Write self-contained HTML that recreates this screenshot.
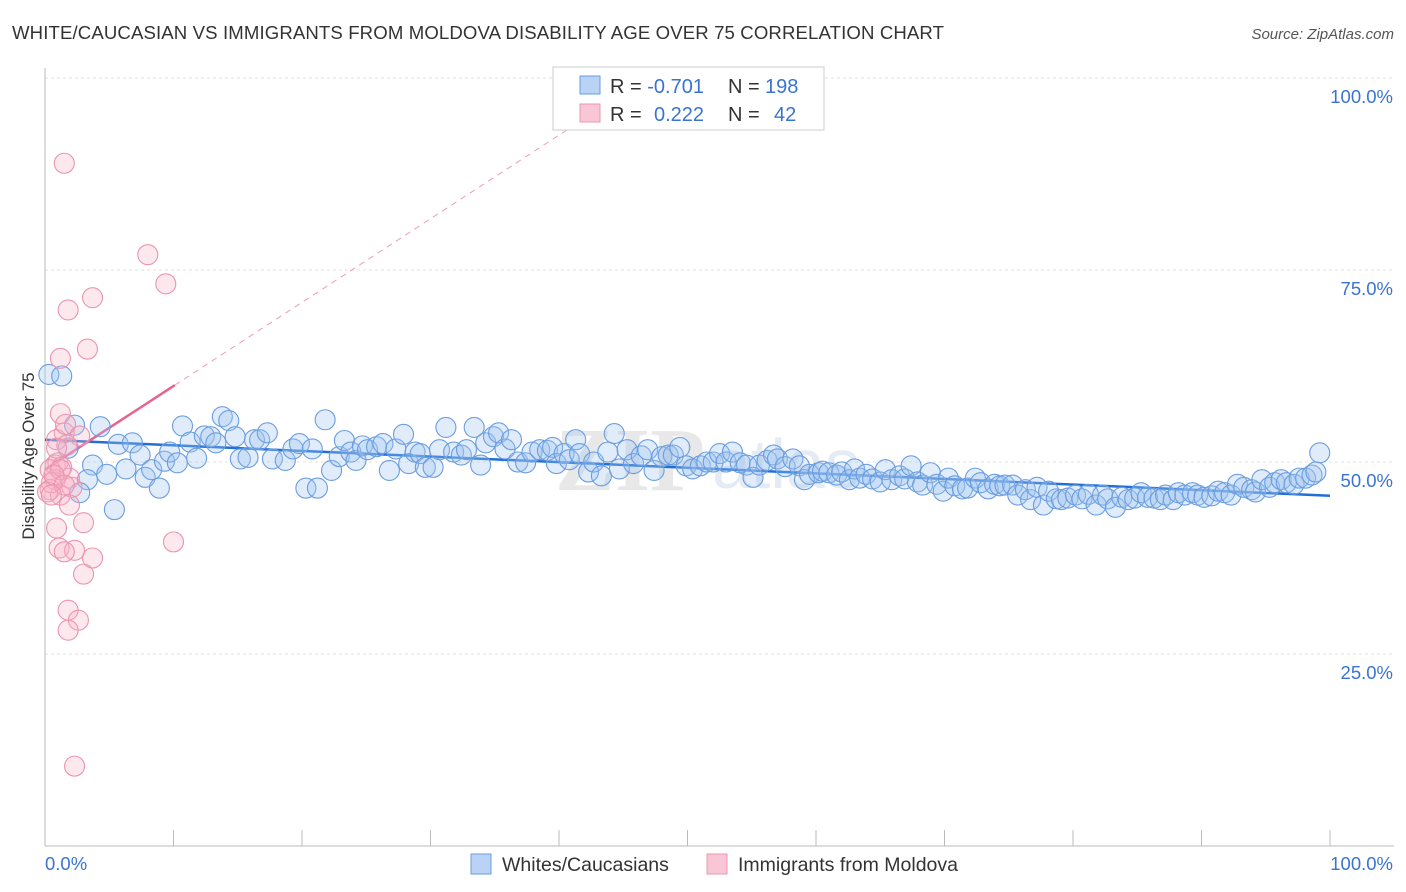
<!DOCTYPE html>
<html><head><meta charset="utf-8"><style>
body{margin:0;background:#fff;font-family:"Liberation Sans",sans-serif}
#wrap{position:relative;width:1406px;height:892px;overflow:hidden}
</style></head><body>
<div id="wrap">
<svg id="chart" width="1406" height="892" xmlns="http://www.w3.org/2000/svg">
<text x="12" y="39" font-size="18.6" fill="#333" textLength="932">WHITE/CAUCASIAN VS IMMIGRANTS FROM MOLDOVA DISABILITY AGE OVER 75 CORRELATION CHART</text>
<text x="1394" y="39" font-size="15" fill="#555" font-style="italic" text-anchor="end">Source: ZipAtlas.com</text>
<text x="34" y="456" font-size="17" fill="#333" text-anchor="middle" transform="rotate(-90 34 456)">Disability Age Over 75</text>
<g><text x="555" y="490" font-size="90" font-family="Liberation Serif,serif" font-weight="bold" fill="#e8e8e8">ZIP</text><text x="712" y="488" font-size="70" fill="#e4ebf5">atlas</text></g>
<g id="grid"></g><g id="axes"></g><g id="trend"></g><g id="pts"></g>
<g>
<rect x="553" y="67" width="271" height="63" fill="#fff" stroke="#ccc"/>
<rect x="580" y="76" width="20" height="18" fill="#b9d2f5" stroke="#6a9ee0"/>
<rect x="580" y="104" width="20" height="18" fill="#f9c6d5" stroke="#ea97b3"/>
<text x="610" y="93" font-size="20" fill="#333">R = <tspan fill="#3a74d0">-0.701</tspan><tspan x="728">N = </tspan><tspan fill="#3a74d0" x="765">198</tspan></text>
<text x="610" y="121" font-size="20" fill="#333">R = <tspan fill="#3a74d0" x="654">0.222</tspan><tspan x="728">N = </tspan><tspan fill="#3a74d0" x="774">42</tspan></text>
</g>
<g>
<rect x="471" y="854" width="20" height="20" fill="#b9d2f5" stroke="#6a9ee0"/>
<text x="502" y="871" font-size="19.5" fill="#333">Whites/Caucasians</text>
<rect x="707" y="854" width="20" height="20" fill="#f9c6d5" stroke="#ea97b3"/>
<text x="738" y="871" font-size="19.5" fill="#333">Immigrants from Moldova</text>
</g>
</svg>
</div>
<script>
const blueX=[0.3,1.3,2.3,4.3,1.8,3.7,3.3,2.7,5.4,4.8,6.3,5.7,6.8,7.4,7.8,8.9,8.3,9.3,9.7,10.3,10.7,11.3,11.8,12.4,12.9,13.3,13.8,14.3,14.8,15.2,15.8,16.3,16.7,17.3,17.7,18.7,19.3,19.8,20.3,20.8,21.2,21.8,22.3,22.9,23.3,23.8,24.2,24.7,25.1,25.8,26.3,26.8,27.3,27.9,28.3,28.8,29.2,29.6,30.2,30.7,31.2,31.8,32.4,32.8,33.4,33.9,34.3,34.9,35.3,35.8,36.3,36.8,37.4,37.9,38.5,39.1,39.5,39.8,40.4,40.8,41.3,41.6,42.3,42.7,43.3,43.8,44.3,44.7,45.3,45.8,46.4,46.9,47.4,48.0,48.5,48.9,49.4,49.9,50.4,51.0,51.5,52.0,52.5,53.0,53.5,54.1,54.6,55.1,55.6,56.2,56.7,57.0,57.6,58.2,58.7,59.1,59.5,60.2,60.5,61.0,61.6,62.0,62.6,63.0,63.4,63.9,64.4,65.0,65.4,65.9,66.5,66.9,67.4,67.9,68.3,68.9,69.4,69.9,70.3,70.8,71.4,71.8,72.4,72.8,73.4,73.9,74.3,74.7,75.3,75.7,76.3,76.7,77.2,77.7,78.1,78.7,79.1,79.6,80.2,80.7,81.2,81.8,82.3,82.7,83.3,83.8,84.3,84.8,85.3,85.8,86.3,86.8,87.2,87.8,88.2,88.7,89.3,89.7,90.2,90.8,91.3,91.8,92.3,92.8,93.3,93.9,94.2,94.7,95.3,95.7,96.2,96.6,97.2,97.6,98.1,98.6,98.9,99.2];
const blueY=[61.4,61.2,54.8,54.6,51.8,49.6,47.7,46.0,43.8,48.4,49.1,52.3,52.5,50.9,48.0,46.6,49.0,50.1,51.3,49.9,54.7,52.6,50.5,53.4,53.3,52.5,55.9,55.4,53.3,50.4,50.6,52.9,52.9,53.8,50.4,50.2,51.7,52.4,46.6,51.7,46.6,55.5,48.9,50.7,52.8,51.3,50.2,52.1,51.6,52.0,52.4,48.9,51.7,53.6,49.8,51.3,51.1,49.3,49.3,51.6,54.5,51.3,50.9,51.6,54.5,49.6,52.5,53.3,53.8,51.7,52.9,50.0,49.9,51.3,51.6,51.5,51.9,49.8,51.1,50.3,52.9,51.1,48.7,50.0,48.2,51.3,53.7,49.1,51.6,49.8,50.8,51.6,48.9,50.7,50.9,50.9,51.9,49.5,49.1,49.5,50.0,50.0,51.1,50.0,51.3,49.9,49.6,48.0,49.6,50.2,50.9,50.4,49.4,50.4,49.5,47.7,48.4,48.6,48.8,48.6,48.3,48.7,47.7,49.1,47.9,48.4,47.8,47.4,49.0,47.7,48.2,47.8,49.5,47.4,47.0,48.6,47.1,46.2,47.9,46.9,46.5,46.6,47.9,47.3,46.5,47.1,46.9,47.0,47.0,45.7,46.4,45.1,46.7,44.4,46.2,45.2,45.1,45.3,45.7,45.2,45.8,44.4,45.7,45.2,44.1,45.4,45.1,45.3,46.0,45.4,45.3,45.1,45.7,45.1,46.0,45.7,46.0,45.7,45.4,45.6,46.2,46.0,45.7,47.1,46.7,46.4,46.1,47.7,46.7,47.3,47.7,47.3,47.1,47.9,47.9,48.3,48.7,51.2];
const pinkX=[1.5,8.0,9.4,3.7,1.8,3.3,1.2,1.2,1.5,2.7,0.9,1.7,0.8,1.0,1.3,0.4,1.9,0.8,0.4,1.2,2.1,1.9,0.9,3.0,1.1,2.3,1.5,3.7,3.0,1.8,2.6,1.8,2.3,10.0,0.5,0.2,0.9,1.6,1.2,0.7,1.5,0.5];
const pinkY=[88.9,77.0,73.2,71.4,69.8,64.7,63.5,56.3,53.8,53.4,52.9,52.2,49.6,49.9,49.3,49.0,47.9,47.7,46.4,45.7,46.7,44.4,41.4,42.1,38.8,38.5,38.3,37.5,35.4,30.7,29.4,28.1,10.4,39.6,47.3,46.1,51.8,54.9,49.0,48.3,47.0,45.7];
const xTicks=[0,10,20,30,40,50,60,70,80,90,100];
const yTicks=[25,50,75,100];
const yTickLabels=["25.0%","50.0%","75.0%","100.0%"];
const blueTrend=[52.9,45.6];
const pinkTrend=[49.0,60.0];
const pinkTrendEnd=10.1;

const X0=45,X1=1330,Y0=846,Y100=78;
const sx=v=>X0+(X1-X0)*v/100, sy=v=>Y0-(Y0-Y100)*v/100;
const NS="http://www.w3.org/2000/svg";
function mk(tag,attrs,parent){const e=document.createElementNS(NS,tag);for(const k in attrs)e.setAttribute(k,attrs[k]);document.getElementById(parent).appendChild(e);return e;}

yTicks.forEach((t,i)=>{
  const g=mk('line',{x1:X0,x2:1394,y1:sy(t),y2:sy(t),stroke:'#e2e2e2','stroke-dasharray':'3,3'},'grid');
  
  
  const l=mk('text',{x:1393,y:sy(t)+25,'font-size':18.5,fill:'#3a74d0','text-anchor':'end'},'grid');
  l.textContent=yTickLabels[i];
  
  
});
const ax=mk('line',{x1:X0,x2:X0,y1:68,y2:Y0,stroke:'#bbb'},'axes');


const bx=mk('line',{x1:X0,x2:1394,y1:Y0,y2:Y0,stroke:'#bbb'},'axes');


xTicks.forEach(t=>{
  if(t===0)return;
  const k=mk('line',{x1:sx(t),x2:sx(t),y1:830,y2:Y0,stroke:'#bbb'},'axes');
  
  
});
const xl0=mk('text',{x:45,y:870,'font-size':18.5,fill:'#3a74d0'},'axes');xl0.textContent='0.0%';


const xl1=mk('text',{x:1393,y:870,'font-size':18.5,fill:'#3a74d0','text-anchor':'end'},'axes');xl1.textContent='100.0%';



blueX.forEach((x,i)=>{
  const c=mk('circle',{cx:sx(x),cy:sy(blueY[i]),r:10,fill:'rgba(160,196,240,0.32)',stroke:'#6a9de0','stroke-width':1.1},'pts');
  
  
});
pinkX.forEach((x,i)=>{
  const c=mk('circle',{cx:sx(x),cy:sy(pinkY[i]),r:10,fill:'rgba(248,180,200,0.3)',stroke:'#ea94b0','stroke-width':1.1},'pts');
  
  
});
const bl=mk('line',{x1:sx(0),y1:sy(blueTrend[0]),x2:sx(100),y2:sy(blueTrend[1]),stroke:'#1f6fd6','stroke-width':2.5},'trend');


const slope=(pinkTrend[1]-pinkTrend[0])/pinkTrendEnd;
const xTop=(100-pinkTrend[0])/slope;
const pd=mk('line',{x1:sx(pinkTrendEnd),y1:sy(pinkTrend[1]),x2:sx(xTop),y2:sy(100),stroke:'#eaa0b8','stroke-width':1,'stroke-dasharray':'6,5'},'trend');


const pl=mk('line',{x1:sx(0),y1:sy(pinkTrend[0]),x2:sx(pinkTrendEnd),y2:sy(pinkTrend[1]),stroke:'#e8628e','stroke-width':2.5},'trend');


</script>
</body></html>
